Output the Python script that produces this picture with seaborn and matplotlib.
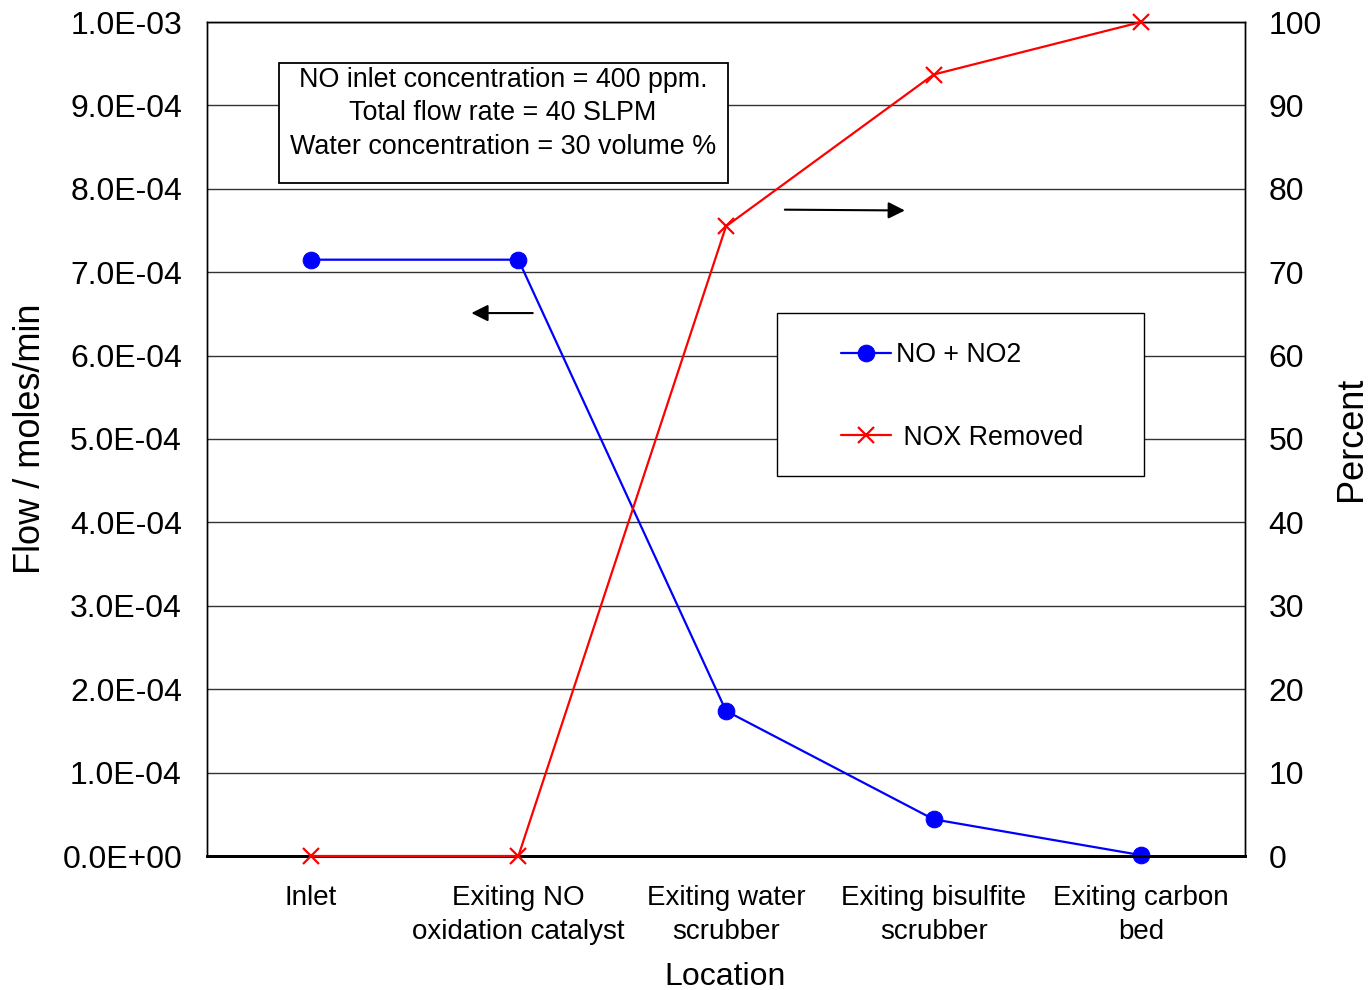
import numpy as np
import pandas as pd
import matplotlib
matplotlib.use("Agg")
import matplotlib.pyplot as plt
import matplotlib.ticker as mticker
from matplotlib.patches import Rectangle
import seaborn as sns

# ---- data ----
locations = ["Inlet", "Exiting NO\noxidation catalyst", "Exiting water\nscrubber",
             "Exiting bisulfite\nscrubber", "Exiting carbon\nbed"]
flow_no_no2 = [7.15e-4, 7.15e-4, 1.74e-4, 4.4e-5, 1.0e-6]
nox_removed = [0.0, 0.0, 75.5, 93.7, 100.0]
left_ticks = [i * 1e-4 for i in range(11)]
right_ticks = list(range(0, 101, 10))
box_text = "NO inlet concentration = 400 ppm.\nTotal flow rate = 40 SLPM\nWater concentration = 30 volume %"

sns.set_style("white")
plt.rcParams["font.family"] = ["Liberation Sans", "DejaVu Sans"]
plt.rcParams["text.color"] = "black"
plt.rcParams["axes.labelcolor"] = "black"
plt.rcParams["xtick.color"] = "black"
plt.rcParams["ytick.color"] = "black"

fig = plt.figure(figsize=(13.71, 9.90), dpi=100)
ax = fig.add_axes([207 / 1371, 1 - 856 / 990, 1038 / 1371, 834 / 990])
ax2 = ax.twinx()

xpos = np.arange(len(locations))
df = pd.DataFrame({"pos": xpos, "flow": flow_no_no2, "removed": nox_removed})

sns.lineplot(data=df, x="pos", y="flow", ax=ax, color="#0000FF", marker="o",
             markersize=12, markeredgecolor="#0000FF", linewidth=1.6,
             label="NO + NO2", legend=False, zorder=5, clip_on=False)
sns.lineplot(data=df, x="pos", y="removed", ax=ax2, color="#FF0000", marker="x",
             markersize=12, markeredgewidth=1.6, markeredgecolor="#FF0000",
             markerfacecolor="#FF0000", linewidth=1.6,
             label=" NOX Removed", legend=False, zorder=5, clip_on=False)

# axes limits/ticks
ax.set_xlim(-0.5, len(locations) - 0.5)
ax.set_ylim(0, 1e-3)
ax2.set_ylim(0, 100)
ax.set_yticks(left_ticks)
ax2.set_yticks(right_ticks)
ax.yaxis.set_major_formatter(mticker.FuncFormatter(lambda v, p: f"{v:.1E}"))
ax.set_xticks(xpos)
ax.set_xticklabels(locations)
ax.set_xticks(np.arange(0.5, len(locations) - 0.5, 1.0), minor=True)

ax.tick_params(axis="y", which="both", length=0, labelsize=23, pad=18, colors="black")
ax2.tick_params(axis="y", which="both", length=0, labelsize=23, pad=17, colors="black")
ax.tick_params(axis="x", which="major", length=0, labelsize=20, pad=21, colors="black")
ax.tick_params(axis="x", which="minor", length=6, width=1, direction="in", color="black")
ax2.tick_params(axis="x", which="both", length=0)
for t in ax.get_xticklabels():
    t.set_linespacing(1.37)

ax.grid(axis="y", color="#333333", linewidth=1.0)
ax.set_axisbelow(True)
ax2.grid(False)

for a in (ax, ax2):
    for s in a.spines.values():
        s.set_visible(True)
        s.set_color("black")
        s.set_linewidth(1.0)
        s.set_zorder(2)
ax.spines["bottom"].set_linewidth(2.0)
ax2.spines["bottom"].set_linewidth(2.0)

ax.set_ylabel("Flow / moles/min", fontsize=26, va="center")
ax.yaxis.set_label_coords(-0.1705, 0.5)
ax2.set_ylabel("Percent", fontsize=26, va="center", rotation=90)
ax2.yaxis.set_label_coords(1.103, 0.5)
ax.set_xlabel("Location", fontsize=23, va="center")
ax.xaxis.set_label_coords(0.499, -0.1445)

# info box
ax2.add_patch(Rectangle((0.069, 0.807), 0.433, 0.144, transform=ax2.transAxes,
                        facecolor="white", edgecolor="black", linewidth=1.3, zorder=6))
ax2.text(0.285, 0.8905, box_text, transform=ax2.transAxes, ha="center", va="center",
         fontsize=19.4, linespacing=1.38, zorder=7)

# legend box
ax2.add_patch(Rectangle((0.549, 0.456), 0.354, 0.195, transform=ax2.transAxes,
                        facecolor="white", edgecolor="black", linewidth=1.0, zorder=6))
h1, l1 = ax.get_legend_handles_labels()
h2, l2 = ax2.get_legend_handles_labels()
leg = ax2.legend(h1 + h2, l1 + l2, loc="center left", bbox_to_anchor=(0.611, 0.551),
                 frameon=False, fontsize=19.3, borderpad=0, borderaxespad=0,
                 handlelength=1.85, handletextpad=0.2, labelspacing=2.1)
leg.set_zorder(8)

# arrows
ax2.annotate("", xy=(0.252, 0.651), xytext=(0.3165, 0.651), xycoords="axes fraction",
             arrowprops=dict(arrowstyle="-|>", color="black", lw=1.5, mutation_scale=25))
ax2.annotate("", xy=(0.675, 0.774), xytext=(0.554, 0.775), xycoords="axes fraction",
             arrowprops=dict(arrowstyle="-|>", color="black", lw=1.5, mutation_scale=25))

fig.savefig("out.png", dpi=100, facecolor="white")
